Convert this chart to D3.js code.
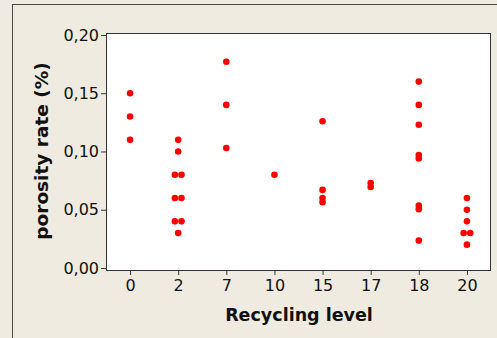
<!DOCTYPE html>
<html>
<head>
<meta charset="utf-8">
<script src="https://cdn.jsdelivr.net/npm/d3@7"></script>
<style>
  body { margin: 0; background: #efebe1; }
  svg { display: block; }
</style>
</head>
<body>
<div id="chart"></div>
<script>

// recycling levels (categorical axis)
const levels = ["0", "2", "7", "10", "15", "17", "18", "20"];

// porosity values for each level
const level0 = [0.15, 0.13, 0.11];
const level2 = [0.11, 0.10, 0.08, 0.08, 0.06, 0.06, 0.04, 0.04, 0.03];
const level7 = [0.177, 0.14, 0.103];
const level10 = [0.08];
const level15 = [0.126, 0.067, 0.06, 0.0565];
const level17 = [0.073, 0.0695];
const level18 = [0.16, 0.14, 0.123, 0.097, 0.094, 0.0535, 0.0505, 0.0235];
const level20 = [0.06, 0.05, 0.04, 0.03, 0.03, 0.02];

const yTicks = [0, 0.05, 0.10, 0.15, 0.20];

const groups = [level0, level2, level7, level10, level15, level17, level18, level20];

// flatten, spreading tied values sideways like the original dotplot
const data = [];
groups.forEach((vals, gi) => {
  const counts = {};
  vals.forEach((v) => { counts[v] = (counts[v] || 0) + 1; });
  const seen = {};
  vals.forEach((v) => {
    const n = counts[v];
    const k = seen[v] || 0;
    seen[v] = k + 1;
    data.push({ level: levels[gi], value: v, slot: k - (n - 1) / 2 });
  });
});

const W = 497, H = 338;
const margin = { top: 33, right: 6, bottom: 67, left: 106 };
const width = W - margin.left - margin.right;
const height = H - margin.top - margin.bottom;

const svg = d3.select("#chart")
  .append("svg")
  .attr("width", W)
  .attr("height", H);

// outer frame
svg.append("rect")
  .attr("x", 12.5)
  .attr("y", 4.5)
  .attr("width", W)
  .attr("height", H)
  .attr("fill", "#efebe1")
  .attr("stroke", "#4a4a4a");

const g = svg.append("g")
  .attr("transform", `translate(${margin.left}, ${margin.top})`);

const xScale = d3.scalePoint()
  .domain(levels)
  .range([0, width])
  .padding(0.5);

const yScale = d3.scaleLinear()
  .domain([-0.0026, 0.2017])
  .range([height, 0]);

// plot area
g.append("rect")
  .attr("x", 0.5)
  .attr("y", 0.5)
  .attr("width", width - 1)
  .attr("height", height - 1)
  .attr("fill", "#fff")
  .attr("stroke", "#333");

const fmt = (d) => d3.format(".2f")(d).replace(".", ",");

const yAxis = g.append("g")
  .call(d3.axisLeft(yScale).tickValues(yTicks).tickFormat(fmt).tickSize(5).tickSizeOuter(0));
yAxis.select(".domain").remove();
yAxis.selectAll("line").attr("stroke", "#333");
yAxis.selectAll("text")
  .attr("x", -7)
  .style("font-family", "DejaVu Sans, sans-serif")
  .style("font-size", "16px")
  .attr("fill", "#111");

const xAxis = g.append("g")
  .attr("transform", `translate(0, ${height})`)
  .call(d3.axisBottom(xScale).tickSize(4).tickSizeOuter(0));
xAxis.select(".domain").remove();
xAxis.selectAll("line").attr("stroke", "#333");
xAxis.selectAll("text")
  .attr("y", 9)
  .style("font-family", "DejaVu Sans, sans-serif")
  .style("font-size", "16px")
  .attr("fill", "#111");

// axis titles
g.append("text")
  .attr("x", width / 2 + 0.5)
  .attr("y", height + 50)
  .attr("text-anchor", "middle")
  .style("font-family", "DejaVu Sans, sans-serif")
  .style("font-weight", "bold")
  .style("font-size", "17.5px")
  .attr("fill", "#111")
  .text("Recycling level");

svg.append("text")
  .attr("transform", "rotate(-90)")
  .attr("x", -151)
  .attr("y", 48)
  .attr("text-anchor", "middle")
  .style("font-family", "DejaVu Sans, sans-serif")
  .style("font-weight", "bold")
  .style("font-size", "18.5px")
  .attr("fill", "#111")
  .text("porosity rate (%)");

// points
g.selectAll("circle")
  .data(data)
  .enter()
  .append("circle")
  .attr("cx", (d) => xScale(d.level) + d.slot * 6.6)
  .attr("cy", (d) => yScale(d.value))
  .attr("r", 3.3)
  .attr("fill", "#ff0000");

</script>
</body>
</html>
